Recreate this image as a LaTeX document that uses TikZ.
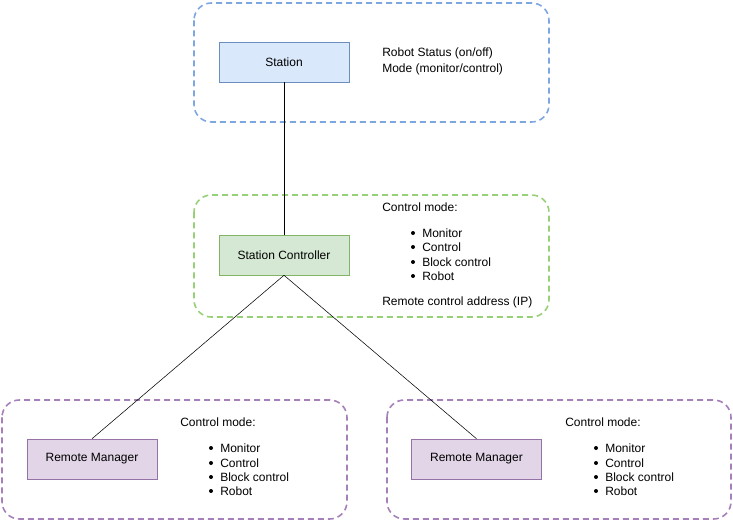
\documentclass[tikz,border=0pt]{standalone}
\usepackage{fontspec}
\setmainfont{Liberation Sans}

\definecolor{bluefill}{HTML}{DAE8FC}
\definecolor{blueline}{HTML}{6C8EBF}
\definecolor{bluedash}{HTML}{7EA6E0}
\definecolor{greenfill}{HTML}{D5E8D4}
\definecolor{greenline}{HTML}{82B366}
\definecolor{greendash}{HTML}{97D077}
\definecolor{purplefill}{HTML}{E1D5E7}
\definecolor{purpleline}{HTML}{9673A6}
\definecolor{purpledash}{HTML}{A680B8}

\tikzset{
  group/.style={line width=1.2pt, dash pattern=on 4.5pt off 3pt, rounded corners=13pt},
  unit/.style={draw, rectangle, minimum width=97.5pt, minimum height=30pt, inner sep=0pt},
  info/.style={anchor=west, inner sep=0pt},
  dot/.style={circle, fill=black, inner sep=0pt, minimum size=3pt}
}

\begin{document}
\begin{tikzpicture}[x=0.75pt, y=-0.75pt, font=\fontsize{9}{10.8}\selectfont]
\useasboundingbox (0,0) rectangle (733,521);

% dashed groups
\draw [group, draw=bluedash] (194,3) rectangle (549,122);
\draw [group, draw=greendash] (194,195) rectangle (549,317);
\draw [group, draw=purpledash] (2,400) rectangle (347,519);
\draw [group, draw=purpledash] (387,400) rectangle (731,519);

% units
\node [unit, fill=bluefill, draw=blueline] (station) at (284,62) {Station};
\node [unit, fill=greenfill, draw=greenline] (controller) at (284,255) {Station Controller};
\node [unit, fill=purplefill, draw=purpleline] (managerA) at (92,459) {Remote Manager};
\node [unit, fill=purplefill, draw=purpleline] (managerB) at (476.5,459) {Remote Manager};

\draw (station) -- (controller);
\draw (controller.south) -- (managerA.north);
\draw (controller.south) -- (managerB.north);

% station info
\node [info] (status) at (382,53) {Robot Status (on/off)};
\node [info] (mode) at (382,69) {Mode (monitor/control)};

% controller info
\node [info] (cmode) at (382,207) {Control mode:};
\node [dot] (c1) at (413,233) {};
\node [dot] (c2) at (413,247) {};
\node [dot] (c3) at (413,262) {};
\node [dot] (c4) at (413,276) {};
\node [info] at (422,233) {Monitor};
\node [info] at (422,247) {Control};
\node [info] at (422,262) {Block control};
\node [info] at (422,276) {Robot};
\node [info] (address) at (382,302) {Remote control address (IP)};

% manager A info
\node [info] (amode) at (180,422) {Control mode:};
\node [dot] (a1) at (211,448) {};
\node [dot] (a2) at (211,463) {};
\node [dot] (a3) at (211,477) {};
\node [dot] (a4) at (211,491) {};
\node [info] at (220,448) {Monitor};
\node [info] at (220,463) {Control};
\node [info] at (220,477) {Block control};
\node [info] at (220,491) {Robot};

% manager B info
\node [info] (bmode) at (565,422) {Control mode:};
\node [dot] (b1) at (596,448) {};
\node [dot] (b2) at (596,463) {};
\node [dot] (b3) at (596,477) {};
\node [dot] (b4) at (596,491) {};
\node [info] at (605,448) {Monitor};
\node [info] at (605,463) {Control};
\node [info] at (605,477) {Block control};
\node [info] at (605,491) {Robot};

\end{tikzpicture}
\end{document}
